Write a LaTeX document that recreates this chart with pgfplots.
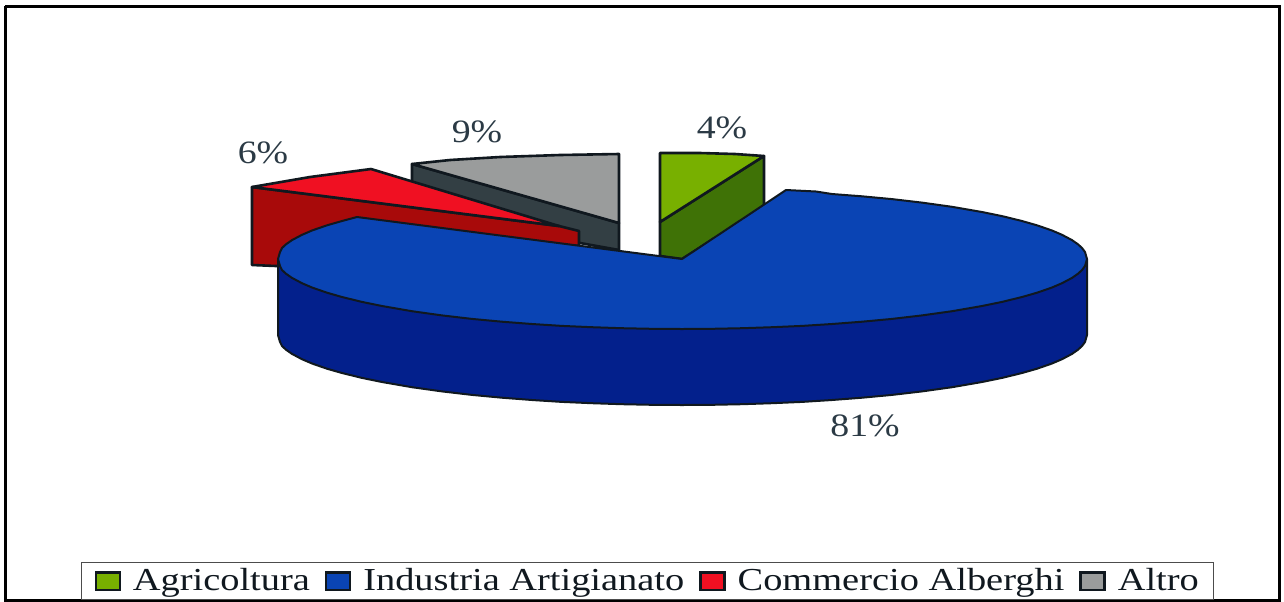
\documentclass[border=0pt]{standalone}
\usepackage{fontspec}
\setmainfont{Liberation Serif}
\usepackage{graphicx}
\usepackage{pgfplots}
\pgfplotsset{compat=1.18}
\definecolor{edge}{HTML}{10181F}
\definecolor{lab}{HTML}{2B3A45}
\definecolor{greentop}{HTML}{78B000}
\definecolor{greenside}{HTML}{3F7206}
\definecolor{bluetop}{HTML}{0A44B4}
\definecolor{blueside}{HTML}{03208C}
\definecolor{redtop}{HTML}{F01022}
\definecolor{redside}{HTML}{A80A0A}
\definecolor{graytop}{HTML}{9A9C9C}
\definecolor{grayside}{HTML}{333F44}
\newcommand{\pct}[1]{\fontsize{16.3}{18}\selectfont\scalebox{1.16}[1]{#1}}
\newcommand{\leg}[1]{\fontsize{16}{18}\selectfont\scalebox{1.2}[1]{#1}}
\pgfplotsset{
  face/.style={draw=edge, line width=1.3pt, line join=round, fill=#1, forget plot},
  swatch/.style={legend image code/.code={%
    \draw[draw=edge, line width=1.2pt, fill=#1] (0pt,-4.3pt) rectangle (12pt,4.3pt);}},
}
\begin{document}
\begin{tikzpicture}
\begin{axis}[
  width=642pt, height=300.5pt, scale only axis,
  xmin=0, xmax=1284, ymin=0, ymax=601,
  y dir=reverse,
  hide axis,
  clip=true,
  legend columns=4,
  legend cell align=left,
  legend style={
    at={(axis cs:81,562)}, anchor=north west,
    draw=black!70, line width=0.5pt, fill=white,
    inner xsep=6.5pt, inner ysep=2pt,
    nodes={inner xsep=1pt, inner ysep=1pt, text=edge},
    /tikz/every odd column/.append style={column sep=5pt},
    /tikz/every even column/.append style={column sep=6.5pt},
  },
]
\addlegendimage{swatch=greentop}\addlegendentry{\leg{Agricoltura}}
\addlegendimage{swatch=bluetop}\addlegendentry{\leg{Industria Artigianato}}
\addlegendimage{swatch=redtop}\addlegendentry{\leg{Commercio Alberghi}}
\addlegendimage{swatch=graytop}\addlegendentry{\leg{Altro}}

% keep the whole page in the bounding box, hide axis drops it
\path (axis cs:0,0) rectangle (axis cs:1284,601);

% frame of the scanned page
\addplot[draw=black, line width=1.5pt, forget plot] coordinates {(5,6) (1279,6) (1279,600) (5,600) (5,6)};

% Altro
\addplot[face=grayside] coordinates {(412,164) (619,223) (619,250) (580,243) (412,190)} -- cycle;
\addplot[face=graytop] coordinates {(619,154) (560,155) (500,157) (450,160) (412,164) (619,223)} -- cycle;

% Commercio Alberghi
\addplot[face=redside] coordinates {(252,187) (559,226) (579,231) (579,246) (400,240) (300,267) (252,265)} -- cycle;
\addplot[face=redtop] coordinates {(252,187) (310,177) (371,169) (559,226)} -- cycle;

% Agricoltura
\addplot[face=greenside] coordinates {(764,156) (764,207) (682,259) (660,256) (660,222)} -- cycle;
\addplot[face=greentop] coordinates {(660,153) (700,153) (735,154) (764,156) (660,222)} -- cycle;

% Industria Artigianato, side then top
\addplot[face=blueside, line width=1pt] coordinates {
  (1087,259) (1087,335) (1085,342) (1082,346) (1078,349.7) (1072,353.9) (1062,359.2) (1052,363.5)
  (1037,368.7) (1022,373) (1002,377.9) (982,382) (952,387.2) (922,391.4) (892,394.9) (862,397.7)
  (832,400) (802,401.9) (772,403.2) (742,404.2) (712,404.8) (682,405) (652,404.8) (622,404.2)
  (592,403.2) (562,401.9) (532,400) (502,397.7) (472,394.9) (442,391.4) (412,387.2) (382,382)
  (362,377.9) (342,373) (327,368.7) (312,363.5) (302,359.2) (292,353.9) (286,349.7) (282,346)
  (280,342) (278,335) (278,259)} -- cycle;
\addplot[face=bluetop, line width=1pt] coordinates {
  (682,259) (786,190) (816,191.5) (832,194) (862,196.3) (892,199.1) (922,202.6) (952,206.8)
  (982,212) (1002,216.1) (1022,221) (1037,225.3) (1052,230.5) (1062,234.8) (1072,240.1)
  (1078,244.3) (1082,248) (1085,252) (1087,259) (1085,266) (1082,270) (1078,273.7) (1072,277.9)
  (1062,283.2) (1052,287.5) (1037,292.7) (1022,297) (1002,301.9) (982,306) (952,311.2)
  (922,315.4) (892,318.9) (862,321.7) (832,324) (802,325.9) (772,327.2) (742,328.2) (712,328.8)
  (682,329) (652,328.8) (622,328.2) (592,327.2) (562,325.9) (532,324) (502,321.7) (472,318.9)
  (442,315.4) (412,311.2) (382,306) (362,301.9) (342,297) (327,292.7) (312,287.5) (302,283.2)
  (292,277.9) (286,273.7) (282,270) (280,266) (278,259) (280,252) (282,248) (286,244.3)
  (292,240.1) (302,234.8) (312,230.5) (327,225.3) (342,221) (357,217)} -- cycle;

\node[text=lab] at (axis cs:722,128) {\pct{4\%}};
\node[text=lab] at (axis cs:477,132) {\pct{9\%}};
\node[text=lab] at (axis cs:263,153) {\pct{6\%}};
\node[text=lab] at (axis cs:865,426) {\pct{81\%}};
\end{axis}
\end{tikzpicture}
\end{document}
